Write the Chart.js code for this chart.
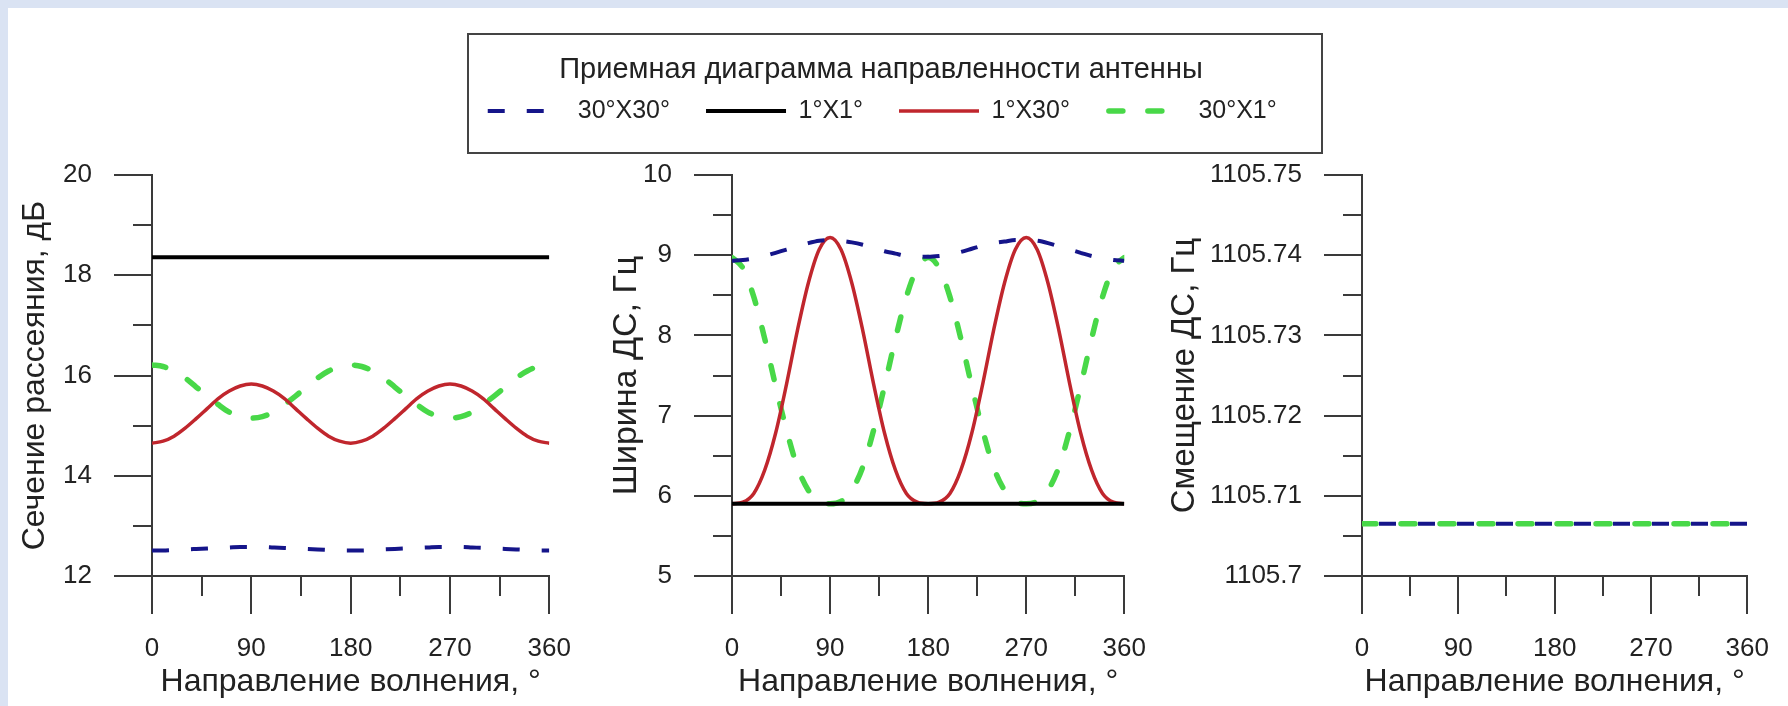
<!DOCTYPE html>
<html>
<head>
<meta charset="utf-8">
<title>Диаграмма направленности</title>
<script src="https://cdn.jsdelivr.net/npm/chart.js@4.4.1/dist/chart.umd.min.js"></script>
<style>
  html, body { margin: 0; padding: 0; }
  body { width: 1788px; height: 706px; background: #dae3f3; position: relative; overflow: hidden; }
  #sheet { position: absolute; left: 8px; top: 8px; right: 0; bottom: 0; background: #fff; }
  .panel { position: absolute; top: 0; height: 706px; }
  #legendBox { position: absolute; left: 467px; top: 33px; width: 856px; height: 121px; border: 2px solid #444; box-sizing: border-box; }
  #legendWrap { position: absolute; left: 353px; top: 33px; width: 1056px; height: 300px; }
</style>
</head>
<body>
<div id="sheet"></div>
<div id="legendBox"></div>
<div class="panel" style="left:0;width:590px"><canvas id="chart1"></canvas></div>
<div class="panel" style="left:575px;width:590px"><canvas id="chart2"></canvas></div>
<div class="panel" style="left:1150px;width:638px"><canvas id="chart3"></canvas></div>
<div id="legendWrap"><canvas id="legendChart"></canvas></div>
<script>
// Направление волнения, градусы
const angles = [0, 10, 20, 30, 40, 50, 60, 70, 80, 90, 100, 110, 120, 130, 140, 150, 160, 170, 180,
  190, 200, 210, 220, 230, 240, 250, 260, 270, 280, 290, 300, 310, 320, 330, 340, 350, 360];

// Сечение рассеяния, дБ
const sigma30x30 = [12.51, 12.51, 12.52, 12.53, 12.54, 12.55, 12.56, 12.57, 12.58, 12.58,
  12.58, 12.57, 12.56, 12.55, 12.54, 12.53, 12.52, 12.51, 12.51,
  12.51, 12.52, 12.53, 12.54, 12.55, 12.56, 12.57, 12.58, 12.58,
  12.58, 12.57, 12.56, 12.55, 12.54, 12.53, 12.52, 12.51, 12.51];
const sigma1x1 = [18.36, 18.36, 18.36, 18.36, 18.36, 18.36, 18.36, 18.36, 18.36, 18.36,
  18.36, 18.36, 18.36, 18.36, 18.36, 18.36, 18.36, 18.36, 18.36,
  18.36, 18.36, 18.36, 18.36, 18.36, 18.36, 18.36, 18.36, 18.36,
  18.36, 18.36, 18.36, 18.36, 18.36, 18.36, 18.36, 18.36, 18.36];
const sigma1x30 = [14.65, 14.69, 14.79, 14.95, 15.14, 15.34, 15.54, 15.69, 15.79, 15.83,
  15.79, 15.69, 15.54, 15.34, 15.14, 14.95, 14.79, 14.69, 14.65,
  14.69, 14.79, 14.95, 15.14, 15.34, 15.54, 15.69, 15.79, 15.83,
  15.79, 15.69, 15.54, 15.34, 15.14, 14.95, 14.79, 14.69, 14.65];
const sigma30x1 = [16.21, 16.18, 16.09, 15.95, 15.77, 15.59, 15.42, 15.27, 15.18, 15.15,
  15.18, 15.27, 15.42, 15.59, 15.77, 15.95, 16.09, 16.18, 16.21,
  16.18, 16.09, 15.95, 15.77, 15.59, 15.42, 15.27, 15.18, 15.15,
  15.18, 15.27, 15.42, 15.59, 15.77, 15.95, 16.09, 16.18, 16.21];

// Ширина ДС, Гц
const width30x30 = [8.93, 8.94, 8.96, 8.99, 9.03, 9.07, 9.11, 9.15, 9.18, 9.19,
  9.18, 9.16, 9.13, 9.09, 9.05, 9.02, 8.99, 8.98, 8.98,
  8.99, 9.01, 9.04, 9.08, 9.12, 9.15, 9.17, 9.19, 9.19,
  9.18, 9.15, 9.11, 9.07, 9.03, 8.99, 8.96, 8.94, 8.93];
const width1x1 = [5.9, 5.9, 5.9, 5.9, 5.9, 5.9, 5.9, 5.9, 5.9, 5.9,
  5.9, 5.9, 5.9, 5.9, 5.9, 5.9, 5.9, 5.9, 5.9,
  5.9, 5.9, 5.9, 5.9, 5.9, 5.9, 5.9, 5.9, 5.9,
  5.9, 5.9, 5.9, 5.9, 5.9, 5.9, 5.9, 5.9, 5.9];
const width1x30 = [5.90, 5.92, 6.03, 6.32, 6.78, 7.39, 8.06, 8.65, 9.07, 9.22,
  9.07, 8.65, 8.06, 7.39, 6.78, 6.32, 6.03, 5.92, 5.90,
  5.92, 6.03, 6.32, 6.78, 7.39, 8.06, 8.65, 9.07, 9.22,
  9.07, 8.65, 8.06, 7.39, 6.78, 6.32, 6.03, 5.92, 5.90];
const width30x1 = [8.97, 8.84, 8.48, 7.96, 7.37, 6.82, 6.36, 6.07, 5.93, 5.90,
  5.93, 6.07, 6.36, 6.82, 7.37, 7.96, 8.48, 8.84, 8.97,
  8.84, 8.48, 7.96, 7.37, 6.82, 6.36, 6.07, 5.93, 5.90,
  5.93, 6.07, 6.36, 6.82, 7.37, 7.96, 8.48, 8.84, 8.97];

// Смещение ДС, Гц
const shift30x30 = [1105.7065, 1105.7065, 1105.7065, 1105.7065, 1105.7065, 1105.7065, 1105.7065, 1105.7065, 1105.7065, 1105.7065,
  1105.7065, 1105.7065, 1105.7065, 1105.7065, 1105.7065, 1105.7065, 1105.7065, 1105.7065, 1105.7065,
  1105.7065, 1105.7065, 1105.7065, 1105.7065, 1105.7065, 1105.7065, 1105.7065, 1105.7065, 1105.7065,
  1105.7065, 1105.7065, 1105.7065, 1105.7065, 1105.7065, 1105.7065, 1105.7065, 1105.7065, 1105.7065];
const shift30x1 = [1105.7065, 1105.7065, 1105.7065, 1105.7065, 1105.7065, 1105.7065, 1105.7065, 1105.7065, 1105.7065, 1105.7065,
  1105.7065, 1105.7065, 1105.7065, 1105.7065, 1105.7065, 1105.7065, 1105.7065, 1105.7065, 1105.7065,
  1105.7065, 1105.7065, 1105.7065, 1105.7065, 1105.7065, 1105.7065, 1105.7065, 1105.7065, 1105.7065,
  1105.7065, 1105.7065, 1105.7065, 1105.7065, 1105.7065, 1105.7065, 1105.7065, 1105.7065, 1105.7065];

// Деления осей
const xTicks = [0, 90, 180, 270, 360];
const xMinor = [45, 135, 225, 315];
const yTicks1 = [12, 14, 16, 18, 20];
const yMinor1 = [13, 15, 17, 19];
const yTicks2 = [5, 6, 7, 8, 9, 10];
const yMinor2 = [5.5, 6.5, 7.5, 8.5, 9.5];
const yTicks3 = [1105.7, 1105.71, 1105.72, 1105.73, 1105.74, 1105.75];
const yMinor3 = [1105.705, 1105.715, 1105.725, 1105.735, 1105.745];

const FONT = "'Liberation Sans', Arial, sans-serif";
const textColor = '#222';
const axisColor = '#3a3a3a';
Chart.defaults.font.family = FONT;

// стили линий для каждой ДН
const styles = {
  '30x30': { label: '30°X30°', borderColor: '#15158a', borderWidth: 4, borderDash: [17, 22] },
  '1x1':   { label: '1°X1°',   borderColor: '#000000', borderWidth: 4 },
  '1x30':  { label: '1°X30°',  borderColor: '#c0262d', borderWidth: 3.5 },
  '30x1':  { label: '30°X1°',  borderColor: '#48d848', borderWidth: 5.5, borderDash: [14, 25], borderCapStyle: 'round' }
};

function dataset(key, values, extra) {
  return Object.assign({
    data: values.map((v, i) => ({ x: angles[i], y: v })),
    pointRadius: 0,
    fill: false,
    cubicInterpolationMode: 'monotone',
    backgroundColor: styles[key].borderColor
  }, styles[key], extra || {});
}

// короткие деления между основными
const minorTicks = {
  id: 'minorTicks',
  afterDraw(chart, args, opts) {
    const { ctx, chartArea: a, scales: { x, y } } = chart;
    ctx.save();
    ctx.strokeStyle = axisColor;
    ctx.lineWidth = 2;
    ctx.beginPath();
    opts.x.forEach(v => {
      const px = Math.round(x.getPixelForValue(v));
      ctx.moveTo(px, a.bottom);
      ctx.lineTo(px, a.bottom + 20);
    });
    opts.y.forEach(v => {
      const py = Math.round(y.getPixelForValue(v));
      ctx.moveTo(a.left - 19, py);
      ctx.lineTo(a.left, py);
    });
    ctx.stroke();
    ctx.restore();
  }
};

const gridStyle = { drawOnChartArea: false, drawTicks: true, tickLength: 38, color: axisColor, tickColor: axisColor, lineWidth: 2, tickWidth: 2 };
const borderStyle = { display: true, color: axisColor, width: 2 };

function makePanel(id, p) {
  return new Chart(document.getElementById(id), {
    type: 'line',
    data: { datasets: p.datasets },
    options: {
      responsive: true,
      maintainAspectRatio: false,
      animation: false,
      layout: { padding: { left: 0, right: p.padRight, top: 175, bottom: 0 } },
      plugins: {
        legend: { display: false },
        tooltip: { enabled: false },
        minorTicks: { x: xMinor, y: p.yMinor }
      },
      scales: {
        x: {
          type: 'linear',
          min: xTicks[0],
          max: xTicks[xTicks.length - 1],
          afterBuildTicks: s => { s.ticks = xTicks.map(v => ({ value: v })); },
          afterFit: s => { s.height = 130; },
          ticks: { padding: 19, autoSkip: false, maxRotation: 0, color: textColor, font: { size: 26 }, callback: v => String(v) },
          grid: gridStyle,
          border: borderStyle,
          title: { display: true, text: 'Направление волнения, °', color: textColor, font: { size: 32 }, padding: { top: 0, bottom: 5 } }
        },
        y: {
          type: 'linear',
          min: p.yTicks[0],
          max: p.yTicks[p.yTicks.length - 1],
          afterBuildTicks: s => { s.ticks = p.yTicks.map(v => ({ value: v })); },
          afterFit: s => { s.width = p.axisWidth; },
          ticks: { padding: 22, color: textColor, font: { size: 26 }, callback: v => String(v) },
          grid: gridStyle,
          border: borderStyle,
          title: { display: true, text: p.title, color: textColor, font: { size: p.titleSize }, padding: { top: p.titlePad, bottom: 0 } }
        }
      }
    },
    plugins: [minorTicks]
  });
}

makePanel('chart1', {
  title: 'Сечение рассеяния, дБ', titleSize: 32,
  yTicks: yTicks1, yMinor: yMinor1, axisWidth: 152, padRight: 37, titlePad: 16,
  datasets: [
    dataset('30x30', sigma30x30),
    dataset('1x1', sigma1x1),
    dataset('1x30', sigma1x30),
    dataset('30x1', sigma30x1)
  ]
});

makePanel('chart2', {
  title: 'Ширина ДС, Гц', titleSize: 34,
  yTicks: yTicks2, yMinor: yMinor2, axisWidth: 157, padRight: 33, titlePad: 31,
  datasets: [
    dataset('30x30', width30x30),
    dataset('1x1', width1x1),
    dataset('1x30', width1x30),
    dataset('30x1', width30x1)
  ]
});

makePanel('chart3', {
  title: 'Смещение ДС, Гц', titleSize: 33,
  yTicks: yTicks3, yMinor: yMinor3, axisWidth: 212, padRight: 26, titlePad: 15,
  datasets: [
    dataset('30x30', shift30x30, { borderDashOffset: 22 }),
    dataset('30x1', shift30x1, { borderDashOffset: 0 })
  ]
});

// общая легенда
new Chart(document.getElementById('legendChart'), {
  type: 'line',
  data: { datasets: ['30x30', '1x1', '1x30', '30x1'].map(k => Object.assign({ data: [] }, styles[k])) },
  options: {
    responsive: true,
    maintainAspectRatio: false,
    animation: false,
    layout: { padding: 0 },
    scales: { x: { display: false }, y: { display: false } },
    plugins: {
      tooltip: { enabled: false },
      legend: {
        position: 'top',
        align: 'center',
        title: {
          display: true,
          text: 'Приемная диаграмма направленности антенны',
          color: textColor,
          font: { size: 29 },
          padding: { top: 22.5, bottom: -27.8 }
        },
        labels: {
          usePointStyle: true,
          pointStyle: 'line',
          pointStyleWidth: 80,
          color: textColor,
          font: { size: 25 },
          padding: 36,
          generateLabels: chart => chart.data.datasets.map((ds, i) => ({
            text: ds.label,
            datasetIndex: i,
            fillStyle: ds.borderColor,
            strokeStyle: ds.borderColor,
            fontColor: textColor,
            lineWidth: ds.borderWidth,
            lineDash: ds.borderDash || [],
            lineDashOffset: ds.borderCapStyle === 'round' ? -3 : -2.5,
            lineCap: ds.borderCapStyle || 'butt',
            pointStyle: 'line',
            hidden: false
          }))
        }
      }
    }
  }
});
</script>
</body>
</html>
